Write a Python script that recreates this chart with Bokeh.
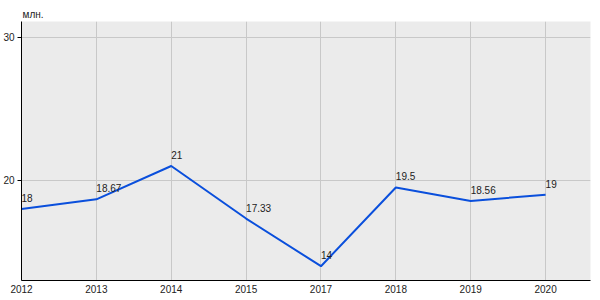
from bokeh.plotting import figure
from bokeh.models import FixedTicker, ColumnDataSource, Title
from bokeh.core.properties import value
from bokeh.embed import file_html
from bokeh.resources import INLINE

years = ["2012", "2013", "2014", "2015", "2017", "2018", "2019", "2020"]
values = [18, 18.67, 21, 17.33, 14, 19.5, 18.56, 19]
labels = ["18", "18.67", "21", "17.33", "14", "19.5", "18.56", "19"]
unit = "млн."

idx = list(range(len(years)))
src = ColumnDataSource(dict(x=idx, y=values, t=labels))

p = figure(width=600, height=300, output_backend="svg", toolbar_location=None,
           x_range=(0, 7.6), y_range=(13.0, 31.1),
           min_border_left=20, min_border_right=10, min_border_top=21, min_border_bottom=20)
p.background_fill_color = "#ebebeb"
p.border_fill_color = "white"
p.outline_line_color = None

p.add_layout(Title(text=unit, text_font="Liberation Sans", text_font_size="10px",
                   text_font_style="normal", text_color="#222222", align="left",
                   offset=1, standoff=4), "above")

p.xaxis.ticker = FixedTicker(ticks=idx)
p.xaxis.major_label_overrides = {i: y for i, y in zip(idx, years)}
p.yaxis.ticker = FixedTicker(ticks=[20, 30])
for ax in (p.xaxis, p.yaxis):
    ax.axis_line_color = "black"
    ax.axis_line_width = 1
    ax.major_label_text_font = "Liberation Sans"
    ax.major_label_text_font_size = "10px"
    ax.major_label_text_color = "#222222"
    ax.minor_tick_line_color = None
p.xaxis.major_tick_line_color = None
p.xaxis.major_tick_out = 0
p.xaxis.major_tick_in = 0
p.xaxis.major_label_standoff = 4
p.yaxis.major_tick_out = 4
p.yaxis.major_tick_in = 0
p.yaxis.major_tick_line_color = "black"
p.yaxis.major_label_standoff = 3

p.grid.grid_line_color = "#c8c8c8"
p.grid.grid_line_width = 1
p.xgrid.ticker = FixedTicker(ticks=idx)
p.ygrid.ticker = FixedTicker(ticks=[20, 30])

p.line("x", "y", source=src, line_color="#0a4fdc", line_width=2)
p.text("x", "y", text="t", source=src, text_font=value("Liberation Sans"),
       text_font_size="10px", text_color="#222222", text_baseline="bottom",
       text_align="left", x_offset=0, y_offset=-7)

open("out.html", "w").write(file_html(p, INLINE))
